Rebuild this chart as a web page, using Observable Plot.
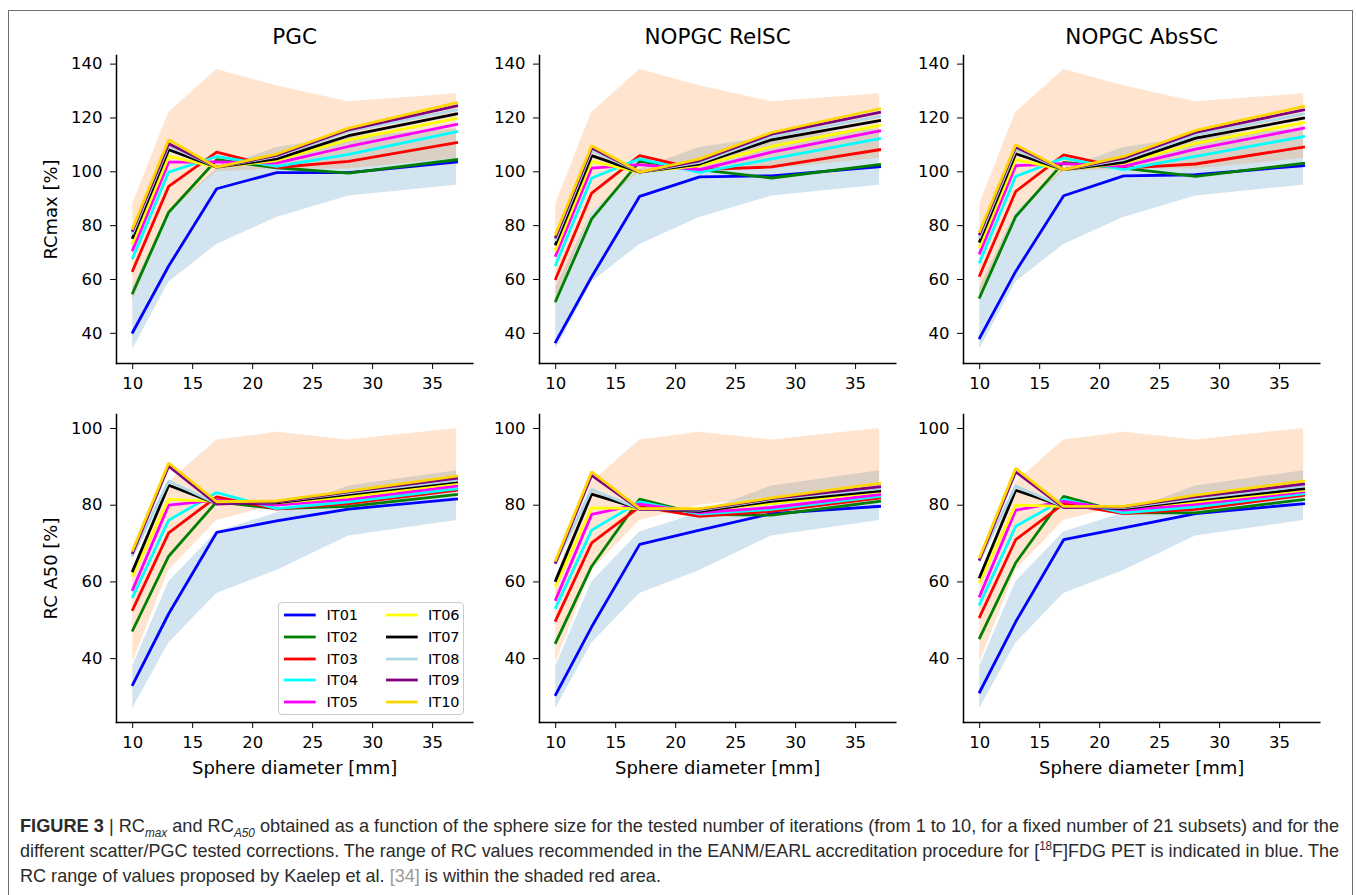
<!DOCTYPE html>
<html><head><meta charset="utf-8">
<script src="https://cdn.jsdelivr.net/npm/d3@7"></script>
<script src="https://cdn.jsdelivr.net/npm/@observablehq/plot@0.6"></script>
<style>
body{margin:0;background:#fff;}
#fig{position:relative;width:1357px;height:895px;overflow:hidden;background:#fff;}
#frame{position:absolute;left:8px;top:10px;width:1345px;height:900px;border:1.5px solid #707070;box-sizing:border-box;}
.panel{position:absolute;}
#legend{position:absolute;left:278px;top:602px;width:186px;height:113px;box-sizing:border-box;border:1px solid #cccccc;border-radius:4px;background:rgba(255,255,255,0.8);font-family:"DejaVu Sans";font-size:14.5px;color:#000;}
.item{position:absolute;height:20px;line-height:20px;}
.item svg{position:absolute;left:0;top:0;}
.item span{position:absolute;white-space:nowrap;}
.cap{position:absolute;left:20px;white-space:nowrap;font-family:"Liberation Sans",Arial,sans-serif;font-size:18.5px;color:#2b2b2b;transform-origin:0 50%;}
.cap sub,.cap sup{font-size:12px;line-height:0;}
.cap .ref{color:#9a9a9a;}
</style></head><body>
<div id="fig"><div id="frame"></div></div>
<script>
// ---------- data ----------
const diameters = [10, 13, 17, 22, 28, 37];
const iterations = ["IT01","IT02","IT03","IT04","IT05","IT06","IT07","IT08","IT09","IT10"];
const iterColors = ["#0000ff","#008000","#ff0000","#00ffff","#ff00ff","#ffff00","#000000","#add8e6","#800080","#ffd700"];
const panelTitles = ["PGC", "NOPGC RelSC", "NOPGC AbsSC"];
const xTicks = [10, 15, 20, 25, 30, 35];
const yTicksMax = [40, 60, 80, 100, 120, 140];
const yTicksA50 = [40, 60, 80, 100];

// EANM/EARL (blue) and Kaalep (red/orange) recommended ranges [%]
const earlMaxLow  = [34, 59, 73, 83, 91, 95];
const earlMaxHigh = [57, 85, 101, 109, 113, 116];
const kaalepMaxLow  = [52, 85, 100, 101, 101, 105];
const kaalepMaxHigh = [88, 122, 138, 132, 126, 129];
const earlA50Low  = [27, 44, 57, 63, 72, 76];
const earlA50High = [38, 60, 73, 78, 85, 89];
const kaalepA50Low  = [39, 63, 76, 80, 82, 85];
const kaalepA50High = [61, 86, 97, 99, 97, 100];

// RCmax per iteration (rows IT01..IT10, columns = diameters)
const pgcMax = [
  [40.4, 65.0, 93.7, 99.7, 99.7, 103.6],
  [55.0, 85.0, 104.5, 101.5, 99.5, 104.5],
  [63.3, 94.6, 107.3, 101.6, 103.9, 110.8],
  [68.0, 99.9, 105.7, 102.0, 106.5, 114.9],
  [71.0, 103.6, 103.7, 103.2, 109.4, 117.6],
  [73.5, 105.7, 101.7, 104.2, 111.9, 119.8],
  [75.6, 108.2, 101.7, 104.8, 113.4, 121.5],
  [77.2, 109.7, 101.7, 105.7, 115.0, 123.0],
  [78.2, 110.4, 101.7, 106.1, 115.6, 124.5],
  [79.0, 111.9, 101.7, 106.6, 116.2, 125.7]
];
const relMax = [
  [36.8, 61.0, 90.9, 98.1, 98.5, 101.9],
  [52.0, 82.5, 103.9, 100.8, 97.7, 102.7],
  [60.3, 92.1, 106.0, 100.8, 101.8, 108.2],
  [65.5, 97.7, 104.8, 99.8, 104.8, 112.3],
  [68.9, 101.4, 102.7, 100.8, 107.3, 115.2],
  [71.1, 103.9, 99.9, 102.3, 109.4, 117.2],
  [73.2, 106.0, 99.9, 102.9, 111.9, 119.0],
  [74.8, 107.8, 99.9, 103.5, 113.1, 120.6],
  [75.8, 108.8, 99.9, 104.1, 114.0, 122.1],
  [76.9, 109.7, 99.9, 104.8, 114.6, 123.4]
];
const absMax = [
  [38.3, 63.0, 91.1, 98.5, 98.9, 102.3],
  [53.4, 83.4, 103.5, 101.4, 98.3, 103.2],
  [61.5, 92.7, 106.3, 101.4, 102.9, 109.2],
  [66.5, 98.3, 105.1, 100.8, 105.7, 113.1],
  [69.8, 102.3, 103.0, 102.0, 108.4, 116.2],
  [72.3, 104.5, 100.8, 103.2, 110.6, 118.3],
  [74.2, 106.7, 100.8, 103.5, 112.5, 119.9],
  [75.8, 108.2, 100.8, 104.5, 113.7, 121.5],
  [76.9, 109.2, 100.8, 105.1, 114.6, 123.0],
  [77.9, 110.0, 100.8, 105.7, 115.4, 124.3]
];
// RC A50
const pgcA50 = [
  [33.2, 51.7, 72.9, 75.9, 79.0, 81.6],
  [47.4, 66.7, 80.9, 79.1, 79.7, 82.8],
  [52.8, 72.8, 82.2, 79.0, 80.4, 83.9],
  [56.1, 76.1, 83.3, 79.1, 80.9, 84.3],
  [58.0, 80.0, 81.3, 80.0, 81.5, 85.0],
  [61.7, 81.5, 81.0, 80.6, 82.2, 85.7],
  [62.9, 85.2, 80.4, 80.6, 82.8, 86.1],
  [67.0, 86.3, 80.4, 80.9, 83.2, 86.5],
  [67.6, 90.2, 80.3, 80.9, 83.5, 87.0],
  [68.3, 91.0, 80.9, 81.1, 83.7, 87.6]
];
const relA50 = [
  [30.6, 48.3, 69.8, 73.5, 77.8, 79.7],
  [44.2, 64.1, 81.6, 77.6, 77.4, 81.0],
  [50.0, 70.2, 79.6, 77.1, 78.4, 81.9],
  [53.3, 73.5, 80.9, 77.7, 78.9, 82.3],
  [55.4, 77.6, 80.3, 78.1, 79.4, 82.8],
  [59.1, 79.3, 79.1, 78.7, 80.4, 83.5],
  [60.4, 82.9, 79.1, 78.4, 81.0, 83.7],
  [65.0, 84.1, 79.0, 78.7, 81.5, 84.3],
  [65.1, 87.8, 78.9, 78.9, 81.7, 84.8],
  [65.7, 88.7, 79.1, 79.1, 81.9, 85.7]
];
const absA50 = [
  [31.3, 49.6, 71.0, 74.1, 77.8, 80.4],
  [45.4, 65.0, 82.3, 78.0, 78.0, 81.5],
  [50.9, 71.0, 80.4, 77.8, 78.9, 82.6],
  [54.2, 74.5, 81.5, 78.0, 79.6, 83.0],
  [56.3, 78.7, 81.0, 78.7, 80.2, 83.5],
  [60.0, 80.0, 79.7, 79.4, 80.9, 83.9],
  [61.3, 83.9, 79.7, 79.1, 81.3, 84.3],
  [65.7, 85.0, 79.6, 79.4, 81.7, 85.0],
  [65.9, 88.7, 79.4, 79.6, 82.2, 85.5],
  [66.5, 89.6, 79.7, 79.7, 82.6, 86.3]
];

// ---------- layout ----------
const fig = document.getElementById("fig");
const FW = 356.3, FH = 308;
const ML = 70, MR = 12, MT = 45, MB = 60;
const frameLefts = [115.7, 539.3, 963.3];
const frameTops = [55, 414.3];

function toRows(matrix) {
  const rows = [];
  matrix.forEach((vals, k) => vals.forEach((v, i) => rows.push({d: diameters[i], it: iterations[k], v})));
  return rows;
}
function band(lo, hi) { return diameters.map((d, i) => ({d, lo: lo[i], hi: hi[i]})); }

function makePanel(col, row, matrix, opts) {
  const marks = [
    Plot.areaY(band(opts.blueLo, opts.blueHi), {x: "d", y1: "lo", y2: "hi", fill: "#1f77b4", fillOpacity: 0.2}),
    Plot.areaY(band(opts.redLo, opts.redHi), {x: "d", y1: "lo", y2: "hi", fill: "#ff7f0e", fillOpacity: 0.2}),
    Plot.line(toRows(matrix), {x: "d", y: "v", z: "it", stroke: "it", strokeWidth: 2.8, strokeLinejoin: "miter", strokeLinecap: "square"}),
    Plot.axisX({ticks: xTicks, tickSize: 6, tickPadding: 8, label: null, fontSize: 16.5}),
    Plot.axisY({ticks: opts.yTicks, tickSize: 6, tickPadding: 8, label: null, fontSize: 16.5}),
    Plot.frame({anchor: "left", stroke: "#000", strokeWidth: 1.5}),
    Plot.frame({anchor: "bottom", stroke: "#000", strokeWidth: 1.5})
  ];
  if (row === 0) marks.push(Plot.text([panelTitles[col]], {text: d => d, frameAnchor: "top", dy: -18.3, lineAnchor: "middle", fontSize: 21.5}));
  if (row === 1) marks.push(Plot.text(["Sphere diameter [mm]"], {text: d => d, frameAnchor: "bottom", dy: 45.4, lineAnchor: "middle", fontSize: 18}));
  if (col === 0) marks.push(Plot.text([opts.ylabel], {text: d => d, frameAnchor: "left", dx: -65, rotate: -90, lineAnchor: "middle", textAnchor: "middle", fontSize: 18}));
  const svg = Plot.plot({
    width: FW + ML + MR, height: FH + MT + MB,
    marginLeft: ML, marginRight: MR, marginTop: MT, marginBottom: MB,
    x: {domain: [8.65, 38.35]},
    y: {domain: opts.yDomain},
    color: {domain: iterations, range: iterColors},
    style: {fontFamily: "DejaVu Sans", color: "#000", background: "transparent", overflow: "visible"},
    marks
  });
  svg.classList.add("panel");
  svg.style.left = (frameLefts[col] - ML) + "px";
  svg.style.top = (frameTops[row] - MT) + "px";
  fig.appendChild(svg);
}

const maxOpts = {yDomain: [28.8, 143.2], yTicks: yTicksMax, ylabel: "RCmax [%]", blueLo: earlMaxLow, blueHi: earlMaxHigh, redLo: kaalepMaxLow, redHi: kaalepMaxHigh};
const a50Opts = {yDomain: [23.35, 103.65], yTicks: yTicksA50, ylabel: "RC A50 [%]", blueLo: earlA50Low, blueHi: earlA50High, redLo: kaalepA50Low, redHi: kaalepA50High};
makePanel(0, 0, pgcMax, maxOpts);
makePanel(1, 0, relMax, maxOpts);
makePanel(2, 0, absMax, maxOpts);
makePanel(0, 1, pgcA50, a50Opts);
makePanel(1, 1, relA50, a50Opts);
makePanel(2, 1, absA50, a50Opts);

// ---------- legend ----------
const legend = document.createElement("div");
legend.id = "legend";
iterations.forEach((name, k) => {
  const c = Math.floor(k / 5), r = k % 5;
  const item = document.createElement("div");
  item.className = "item";
  item.style.left = (c === 0 ? 5 : 106.5) + "px";
  item.style.top = (12 + r * 21.75 - 10) + "px";
  item.innerHTML = `<svg width="34" height="20"><line x1="0" x2="31.7" y1="10" y2="10" stroke="${iterColors[k]}" stroke-width="2.8"/></svg><span style="left:42.5px">${name}</span>`;
  legend.appendChild(item);
});
fig.appendChild(legend);

// ---------- caption ----------
const capLines = [
  {y: 826, w: 1319, html: '<b>FIGURE 3</b> | RC<sub><i>max</i></sub> and RC<sub><i>A50</i></sub> obtained as a function of the sphere size for the tested number of iterations (from 1 to 10, for a fixed number of 21 subsets) and for the'},
  {y: 851, w: 1319, html: 'different scatter/PGC tested corrections. The range of RC values recommended in the EANM/EARL accreditation procedure for [<sup>18</sup>F]FDG PET is indicated in blue. The'},
  {y: 876, w: null, html: 'RC range of values proposed by Kaelep et al. <span class="ref">[34]</span> is within the shaded red area.'}
];
const capEls = capLines.map(l => {
  const el = document.createElement("div");
  el.className = "cap";
  el.innerHTML = l.html;
  el.style.top = (l.y - 11) + "px";
  el.style.lineHeight = "22px";
  fig.appendChild(el);
  return el;
});
let scales = [];
capLines.forEach((l, i) => {
  if (l.w) {
    const s = l.w / capEls[i].getBoundingClientRect().width;
    scales.push(s);
    capEls[i].style.transform = `scaleX(${s})`;
  }
});
const sAvg = d3.mean(scales);
capEls[2].style.transform = `scaleX(${sAvg})`;
</script>
</body></html>
